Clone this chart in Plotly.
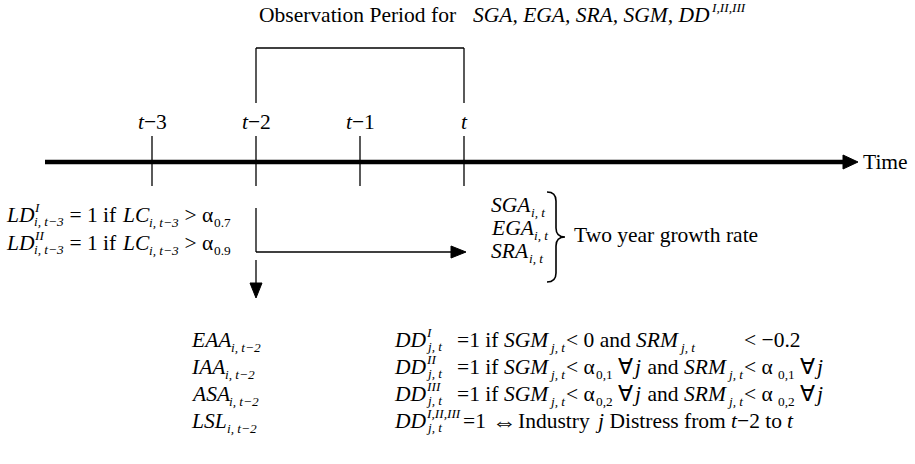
import plotly.graph_objects as go

# ---------------- data ----------------
periods = ["−3", "−2", "−1", ""]          # suffixes after italic t
period_offsets = [-3, -2, -1, 0]
window = [-2, 0]                            # observation window (t-2 .. t)
title_plain = "Observation Period for"
title_vars = "SGA, EGA, SRA, SGM, DD"
title_sup = "I,II,III"
axis_label = "Time"
growth_vars = ["SGA", "EGA", "SRA"]
growth_sub = "i, t"
growth_label = "Two year growth rate"
ld_levels = ["I", "II"]
ld_alpha = ["0.7", "0.9"]
lag_vars = ["EAA", "IAA", "ASA", "LSL"]
lag_sub = "i, t−2"
dd_levels = ["I", "II", "III", "I,II,III"]
dd_alpha = ["0,1", "0,2"]

# ---------------- helpers ----------------
FS = 21.5
FONT = "Liberation Serif, Times New Roman, serif"
T0, STEP = 464, 104
W, H = 915, 464


def tx(off):
    return T0 + STEP * off


REG = {' ': 250, 'a': 444, 'b': 500, 'c': 444, 'd': 500, 'e': 444, 'f': 333, 'g': 500, 'h': 500,
       'i': 278, 'j': 278, 'k': 500, 'l': 278, 'm': 778, 'n': 500, 'o': 500, 'p': 500, 'q': 500,
       'r': 333, 's': 389, 't': 278, 'u': 500, 'v': 500, 'w': 722, 'x': 500, 'y': 500, 'z': 444,
       'A': 722, 'B': 667, 'C': 667, 'D': 722, 'E': 611, 'F': 556, 'G': 722, 'H': 722, 'I': 333,
       'J': 389, 'K': 722, 'L': 611, 'M': 889, 'N': 722, 'O': 722, 'P': 556, 'Q': 722, 'R': 667,
       'S': 556, 'T': 611, 'U': 722, 'V': 722, 'W': 944, 'X': 722, 'Y': 722, 'Z': 611,
       '.': 250, ',': 250, '=': 564, '<': 564, '>': 564, '−': 564, 'α': 540, '∀': 650, '⇔': 900}
for d in "0123456789":
    REG[d] = 500
ITA = dict(REG)
ITA.update({'A': 611, 'B': 611, 'C': 667, 'D': 722, 'E': 611, 'G': 722, 'I': 333, 'L': 556,
            'M': 833, 'R': 611, 'S': 500, 'i': 278, 'j': 278, 't': 278, '−': 675})


def tw(s, size, italic=False):
    m = ITA if italic else REG
    return sum(m.get(c, 500) for c in s) / 1000.0 * size


annotations = []


def put(x, y, txt, size, italic=False, anchor="left"):
    t = "<i>%s</i>" % txt if italic else txt
    annotations.append(dict(x=x / W, y=1 - y / H, xref="paper", yref="paper",
                            text=t, showarrow=False, xanchor=anchor, yanchor="middle",
                            borderpad=0, font=dict(family=FONT, size=size, color="black")))


def line(x, y, segs, size=FS):
    s2 = size * 0.62
    for seg in segs:
        k = seg[0]
        if k in ("r", "i"):
            put(x, y, seg[1], size, k == "i")
            x += tw(seg[1], size, k == "i")
        elif k == "big":
            put(x, y, seg[1], size * 1.15)
            x += tw(seg[1], size * 1.15)
        elif k == "sub":
            put(x + 1, y + 0.33 * size, seg[1], s2, True)
            x += tw(seg[1], s2, True) + 1
        elif k == "subr":
            put(x + 1, y + 0.33 * size, seg[1], s2, False)
            x += tw(seg[1], s2, False) + 1
        elif k == "sup":
            put(x + 1, y - 0.36 * size, seg[1], s2, True)
            x += tw(seg[1], s2, True) + 1
        elif k == "ss":
            put(x + 1, y - 0.33 * size, seg[1], s2, True)
            put(x + 1, y + 0.31 * size, seg[2], s2, True)
            x += max(tw(seg[1], s2, True), tw(seg[2], s2, True)) + 1
        elif k == "gap":
            x += seg[1]
        elif k == "at":
            x = seg[1]
    return x


shapes = []
BLACK = "black"


def seg(x0, y0, x1, y1, w=1.3):
    shapes.append(dict(type="line", xref="x", yref="y", x0=x0, y0=y0, x1=x1, y1=y1,
                       line=dict(color=BLACK, width=w)))


def tri(path):
    shapes.append(dict(type="path", xref="x", yref="y", path=path, fillcolor=BLACK,
                       line=dict(color=BLACK, width=1)))


# ---------------- title ----------------
TY = 15
put(258, TY, title_plain, FS)
line(472, TY, [("i", title_vars), ("gap", 1), ("sup", title_sup)])

# observation bracket
BY = 48
x_a, x_b = tx(window[0]), tx(window[1])
seg(x_a, BY, x_b, BY)
seg(x_a, BY, x_a, 103)
seg(x_b, BY, x_b, 103)

# ---------------- timeline ----------------
LY = 162
seg(45, LY, 845, LY, w=4.5)
tri("M 843 %g L 858 %g L 843 %g Z" % (LY - 7, LY, LY + 7))
put(862, LY, axis_label, FS)
for lab, off in zip(periods, period_offsets):
    xx = tx(off)
    seg(xx, 136, xx, 186)
    put(xx, 122, "<i>t</i>" + lab, FS, anchor="center")

# ---------------- LD definitions ----------------
for i, (lev, a) in enumerate(zip(ld_levels, ld_alpha)):
    y = 215 + 28 * i
    line(5, y, [("i", "LD"), ("ss", lev, "i, t−3"), ("r", " = 1 if "), ("i", "LC"),
                ("sub", "i, t−3"), ("r", " > α"), ("subr", a)])

# arrows from t-2
XA = tx(-2)
seg(XA, 208, XA, 252)
seg(XA, 252, 452, 252)
tri("M 451 246 L 466 252 L 451 258 Z")
seg(XA, 260, XA, 284)
tri("M %g 283 L %g 298 L %g 283 Z" % (XA - 6, XA, XA + 6))

# ---------------- growth rates ----------------
for i, v in enumerate(growth_vars):
    line(490, 205 + 23 * i, [("i", v), ("sub", growth_sub)])
shapes.append(dict(type="path", xref="x", yref="y",
                   path="M 547 192 Q 556 192 556 201 L 556 228 Q 556 237 565 237 "
                        "Q 556 237 556 246 L 556 273 Q 556 282 547 282",
                   line=dict(color=BLACK, width=1.6)))
put(573, 235, growth_label, FS)

# ---------------- bottom block ----------------
rows_y = [340, 367, 394, 421]
LAG_X, DD_X, EQ_X = 190, 393, 456
lt_x = None
for i in (1, 2):
    y = rows_y[i]
    a = dd_alpha[i - 1]
    line(LAG_X, y, [("i", lag_vars[i]), ("sub", lag_sub)])
    x = line(DD_X, y, [("i", "DD"), ("ss", dd_levels[i], "j, t"), ("at", EQ_X), ("r", "=1 if "),
                       ("i", "SGM"), ("sub", "j, t"), ("gap", 3), ("r", "< α"), ("subr", a),
                       ("r", " ∀"), ("i", "j"), ("gap", 4), ("r", " and "), ("i", "SRM"),
                       ("sub", "j, t"), ("gap", 3)])
    if lt_x is None:
        lt_x = x
    line(x, y, [("r", "< α"), ("gap", 4), ("subr", a), ("r", " ∀"), ("i", "j")])

y = rows_y[0]
line(LAG_X, y, [("i", lag_vars[0]), ("sub", lag_sub)])
line(DD_X, y, [("i", "DD"), ("ss", dd_levels[0], "j, t"), ("at", EQ_X), ("r", "=1 if "),
               ("i", "SGM"), ("sub", "j, t"), ("gap", 3), ("r", "< 0 and "), ("i", "SRM"),
               ("sub", "j, t"), ("at", lt_x), ("r", "< −0.2")])

y = rows_y[3]
line(LAG_X, y, [("i", lag_vars[3]), ("sub", lag_sub)])
line(DD_X, y, [("i", "DD"), ("ss", dd_levels[3], "j, t"), ("gap", 4), ("r", "=1 "),
               ("big", "⇔"), ("gap", 4), ("r", "Industry "), ("i", "j"), ("gap", 3),
               ("r", " Distress from "), ("i", "t"), ("r", "−2 to "), ("i", "t")])

fig = go.Figure()
fig.update_layout(
    width=W, height=H, margin=dict(l=0, r=0, t=0, b=0),
    paper_bgcolor="white", plot_bgcolor="white",
    xaxis=dict(range=[0, W], visible=False, fixedrange=True),
    yaxis=dict(range=[H, 0], visible=False, fixedrange=True),
    shapes=shapes, annotations=annotations, showlegend=False,
)
fig.write_html("out.html", config={"displayModeBar": False},
               post_script="document.body.style.margin='0';")
